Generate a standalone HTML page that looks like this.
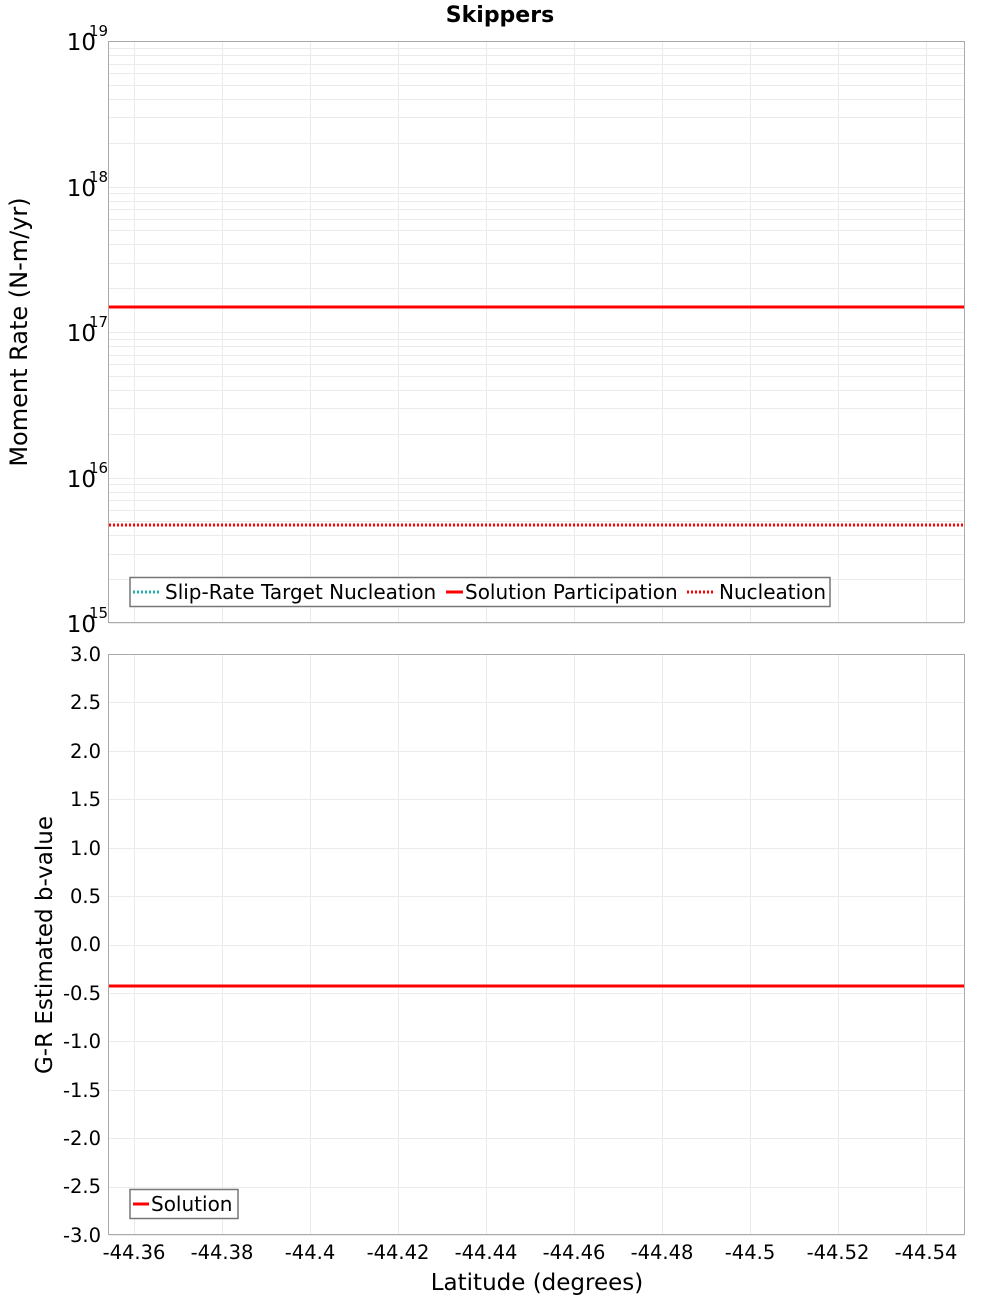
<!DOCTYPE html>
<html><head><meta charset="utf-8"><style>
html,body{margin:0;padding:0;background:#fff;width:1000px;height:1300px;overflow:hidden}
svg{display:block}
text{font-family:"DejaVu Sans","Liberation Sans",sans-serif;fill:#000}
</style></head><body>
<svg id="s" width="1000" height="1300" xmlns="http://www.w3.org/2000/svg">
<g id="grid" stroke="#ebebeb" stroke-width="1"></g>
<text x="500" y="22" font-size="22" font-weight="bold" text-anchor="middle">Skippers</text>
<!-- top plot -->
<rect x="108.5" y="41.5" width="856" height="581" fill="none" stroke="#aaa"/>
<line x1="109" x2="964" y1="525" y2="525" stroke="#20b0b0" stroke-width="3" stroke-dasharray="2,2"/>
<line x1="109" x2="964" y1="525" y2="525" stroke="#f00" stroke-width="3" stroke-dasharray="2,2"/>
<line x1="109" x2="964" y1="307" y2="307" stroke="#f00" stroke-width="3"/>
<g font-size="23" text-anchor="end">
<text x="96" y="50">10</text><text x="96" y="196">10</text><text x="96" y="341">10</text><text x="96" y="487">10</text><text x="96" y="632">10</text>
</g>
<g font-size="15">
<text x="89" y="36">19</text><text x="89" y="182">18</text><text x="89" y="327">17</text><text x="89" y="473">16</text><text x="89" y="618">15</text>
</g>
<text transform="translate(27,332) rotate(-90)" font-size="24" text-anchor="middle">Moment Rate (N-m/yr)</text>
<rect x="130" y="577.5" width="700" height="29" fill="#fff" stroke="#777" stroke-width="1.5"/>
<line x1="133" x2="161" y1="592" y2="592" stroke="#20b0b0" stroke-width="3" stroke-dasharray="2,2"/>
<text x="165" y="599" font-size="20">Slip-Rate Target Nucleation</text>
<line x1="446" x2="463" y1="592" y2="592" stroke="#f00" stroke-width="3"/>
<text x="465" y="599" font-size="20">Solution Participation</text>
<line x1="687" x2="715" y1="592" y2="592" stroke="#f00" stroke-width="3" stroke-dasharray="2,2"/>
<text x="719" y="599" font-size="20">Nucleation</text>
<!-- bottom plot -->
<rect x="108.5" y="654.5" width="856" height="580" fill="none" stroke="#aaa"/>
<line x1="109" x2="964" y1="986" y2="986" stroke="#f00" stroke-width="3"/>
<g font-size="19.5" text-anchor="end">
<text x="101" y="661">3.0</text><text x="101" y="709">2.5</text><text x="101" y="758">2.0</text><text x="101" y="806">1.5</text><text x="101" y="855">1.0</text><text x="101" y="903">0.5</text><text x="101" y="951">0.0</text><text x="101" y="1000">-0.5</text><text x="101" y="1048">-1.0</text><text x="101" y="1097">-1.5</text><text x="101" y="1145">-2.0</text><text x="101" y="1193">-2.5</text><text x="101" y="1242">-3.0</text>
</g>
<text transform="translate(52,945) rotate(-90)" font-size="23" text-anchor="middle">G-R Estimated b-value</text>
<rect x="130" y="1189.5" width="108" height="29" fill="#fff" stroke="#777" stroke-width="1.5"/>
<line x1="133" x2="149" y1="1204" y2="1204" stroke="#f00" stroke-width="3"/>
<text x="151" y="1211" font-size="20">Solution</text>
<g font-size="19.5" text-anchor="middle">
<text x="134" y="1259">-44.36</text><text x="222" y="1259">-44.38</text><text x="310" y="1259">-44.4</text><text x="398" y="1259">-44.42</text><text x="486" y="1259">-44.44</text><text x="574" y="1259">-44.46</text><text x="662" y="1259">-44.48</text><text x="750" y="1259">-44.5</text><text x="838" y="1259">-44.52</text><text x="926" y="1259">-44.54</text>
</g>
<text x="537" y="1290" font-size="23" text-anchor="middle">Latitude (degrees)</text>
</svg>
<script>
var g=document.getElementById('grid'),h='';
for(var i=0;i<10;i++){var x=134+88*i+0.5;
h+='<line x1="'+x+'" x2="'+x+'" y1="42" y2="622"/><line x1="'+x+'" x2="'+x+'" y1="655" y2="1234"/>';}
for(var d=0;d<4;d++){var yb=623-145.5*d;
for(var k=1;k<=9;k++){var y=Math.round(yb-145.5*Math.log10(k))+0.5;
h+='<line x1="109" x2="964" y1="'+y+'" y2="'+y+'"/>';}}
for(var j=0;j<13;j++){var y=Math.round(654+48.42*j)+0.5;h+='<line x1="109" x2="964" y1="'+y+'" y2="'+y+'"/>';}
g.innerHTML=h;
</script>
</body></html>
